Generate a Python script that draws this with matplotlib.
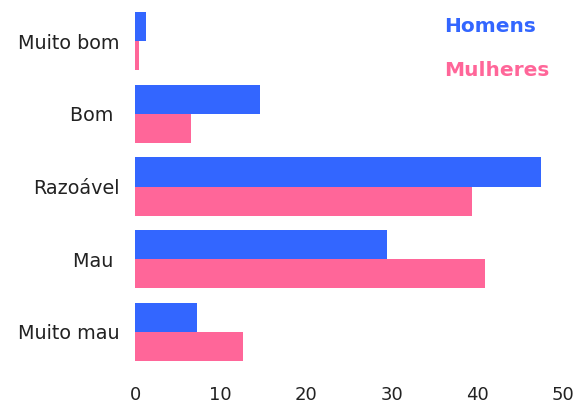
import numpy as np
import matplotlib.pyplot as plt

categorias = ["Muito bom", "Bom ", "Razoável", "Mau ", "Muito mau"]
homens = [1.3, 14.6, 47.4, 29.4, 7.2]
mulheres = [0.5, 6.5, 39.4, 40.9, 12.6]
xticks = [0, 10, 20, 30, 40, 50]

cor_h = "#3366FF"
cor_m = "#FF6699"

fig = plt.figure(figsize=(5.86, 4.07), dpi=100)
ax = fig.add_axes([0.2304, 0.0958, 0.7304, 0.8919])

y = np.arange(len(categorias))
h = 0.4
ax.barh(y - h / 2, homens, height=h, color=cor_h)
ax.barh(y + h / 2, mulheres, height=h, color=cor_m)

ax.set_ylim(len(categorias) - 0.5, -0.5)
ax.set_xlim(0, 50)
ax.set_yticks(y)
ax.set_yticklabels(categorias, fontsize=13.8, color="#222222")
ax.set_xticks(xticks)
ax.set_xticklabels([str(t) for t in xticks], fontsize=13, color="#222222")
ax.tick_params(axis="y", length=0, pad=11)
ax.tick_params(axis="x", length=0, pad=13)
for s in ax.spines.values():
    s.set_visible(False)

# legenda como texto colorido
ax.text(444 / 586, 1 - 26 / 407, "Homens", transform=fig.transFigure,
        color=cor_h, fontsize=14.5, fontweight="bold", va="center", ha="left")
ax.text(444 / 586, 1 - 71 / 407, "Mulheres", transform=fig.transFigure,
        color=cor_m, fontsize=14.5, fontweight="bold", va="center", ha="left")

fig.savefig("out.png", dpi=100)
